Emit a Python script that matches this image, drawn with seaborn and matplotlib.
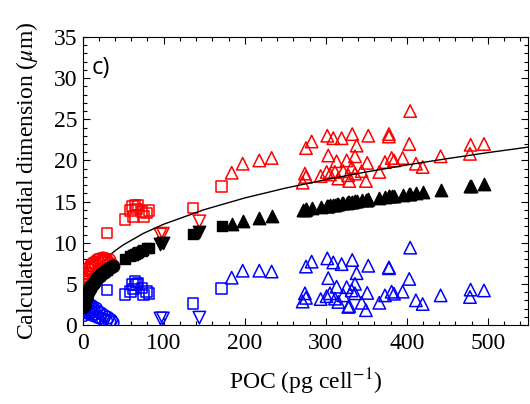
import numpy as np
import pandas as pd
import matplotlib
matplotlib.use("Agg")
import matplotlib.pyplot as plt
import seaborn as sns
from matplotlib.ticker import MultipleLocator

# --- data ---
# circles (small cells)
circ_x = [1.0, 1.2, 1.6, 2.0, 2.5, 3.0, 3.6, 4.2, 5.0, 5.8, 6.6, 7.5, 8.5, 9.5, 10.5,
          11.5, 12.5, 13.5, 15, 16.5, 18, 19.5, 21, 23, 25, 27, 29, 31, 33, 35, 37]
circ_red = [3.9, 4.6, 5.2, 4.3, 5.6, 4.9, 6.0, 5.4, 6.3, 5.8, 6.8, 6.2, 7.0, 6.6, 7.3,
            6.9, 7.5, 7.1, 7.6, 7.3, 7.9, 7.5, 8.0, 7.7, 8.1, 7.8, 8.0, 7.6, 7.9, 7.4, 7.2]
circ_black = [2.16, 2.30, 2.53, 2.72, 2.93, 3.12, 3.31, 3.50, 3.69, 3.88, 4.05, 4.22, 4.40,
              4.57, 4.72, 4.87, 5.01, 5.14, 5.33, 5.50, 5.66, 5.81, 5.95, 6.14, 6.32, 6.48,
              6.64, 6.79, 6.93, 7.07, 7.20]
circ_blue = [1.6, 2.4, 1.2, 2.9, 1.9, 3.2, 2.2, 2.8, 1.5, 2.5, 1.8, 2.6, 1.4, 2.2, 1.6,
             2.3, 1.2, 1.9, 1.4, 2.0, 1.0, 1.6, 0.9, 1.4, 0.7, 1.1, 0.5, 0.9, 0.4, 0.6, 0.3]

# squares
sq_x = [30, 52, 59, 61.5, 62.5, 64.5, 66.5, 68.5, 73, 75, 79, 82, 136, 171.5]
sq_red = [11.2, 12.8, 13.9, 14.4, 13.2, 14.6, 14.1, 14.6, 13.8, 13.2, 13.6, 13.9, 14.2, 16.8]
sq_black = [6.7, 8.05, 8.4, 8.5, 8.55, 8.65, 8.75, 8.85, 9.05, 9.1, 9.3, 9.4, 11.1, 12.0]
sq_blue = [4.25, 3.7, 4.05, 4.9, 4.4, 5.3, 4.9, 5.1, 4.5, 3.65, 4.05, 3.85, 2.6, 4.45]

# down triangles
dt_x = [96, 99, 144]
dt_red = [11.0, 11.1, 12.6]
dt_black = [9.8, 9.95, 11.3]
dt_blue = [0.8, 0.8, 0.9]

# up triangles
ut_x = [183.9, 197.5, 218, 233.2, 271.5, 274.3, 275.6, 275.6, 282.6, 293.7, 301.1, 301.9,
        303.1, 305.2, 309.3, 311.4, 313.4, 315.5, 319.6, 321.6, 325.8, 327.8, 329, 332,
        332.7, 336.1, 336.1, 338.1, 344.3, 349.6, 351.2, 352.5, 366.1, 373.1, 378, 378,
        381.3, 384.2, 394.9, 403.1, 404.2, 411.3, 419.6, 441.8, 478.8, 478, 495.3]
ut_red = [18.5, 19.6, 20.0, 20.3, 17.3, 18.4, 18.0, 21.5, 22.3, 18.1, 18.6, 23.0,
          20.6, 18.3, 22.7, 18.6, 19.9, 17.8, 22.7, 18.7, 20.0, 18.2, 17.5, 19.2,
          23.2, 20.5, 18.4, 21.8, 18.7, 17.5, 19.7, 23.0, 18.6, 19.8, 23.2, 22.9,
          20.3, 20.0, 20.3, 22.0, 26.0, 19.6, 19.2, 20.5, 21.9, 20.8, 22.0]
ut_black = [12.28, 12.58, 13.0, 13.29, 13.98, 14.03, 14.05, 14.05, 14.17, 14.36, 14.48, 14.49,
            14.51, 14.54, 14.61, 14.64, 14.67, 14.70, 14.77, 14.80, 14.86, 14.89, 14.91, 14.96,
            14.97, 15.02, 15.02, 15.05, 15.14, 15.22, 15.24, 15.26, 15.45, 15.55, 15.62, 15.62,
            15.66, 15.70, 15.85, 15.96, 15.97, 16.06, 16.17, 16.45, 16.90, 16.89, 17.09]
ut_blue = [5.75, 6.6, 6.6, 6.5, 2.85, 3.85, 3.3, 7.1, 7.7, 3.15, 3.5, 8.1,
           5.7, 3.85, 7.6, 3.2, 4.65, 2.8, 7.4, 3.6, 4.6, 2.2, 2.3, 4.2,
           7.9, 5.0, 3.85, 6.3, 2.7, 1.8, 3.9, 7.2, 2.7, 3.6, 7.0, 6.9,
           4.05, 3.8, 4.05, 5.6, 9.4, 3.0, 2.55, 3.6, 4.3, 3.4, 4.2]

# fitted curve
line_x = [0, 0.2, 0.5, 1, 2, 3, 5, 7.5, 10, 15, 20, 30, 40, 50, 75, 100, 150, 200, 250,
          300, 350, 400, 450, 500, 550]
line_y = [0, 1.54, 2.10, 2.64, 3.33, 3.81, 4.51, 5.17, 5.69, 6.51, 7.17, 8.20, 9.03, 9.73,
          11.14, 12.25, 14.02, 15.44, 16.63, 17.67, 18.60, 19.45, 20.22, 20.95, 21.62]

sns.set_theme(style="ticks")
plt.rcParams['font.family'] = ['Liberation Serif', 'DejaVu Serif']
plt.rcParams['mathtext.fontset'] = 'stix'
plt.rcParams['text.color'] = 'black'
plt.rcParams['axes.labelcolor'] = 'black'

fig = plt.figure(figsize=(5.3, 4.04), dpi=100)
ax = fig.add_axes([0.156, 0.1955, 0.8408, 0.7129])

groups = [
    ("^", 80, ut_x, ut_red, ut_black, ut_blue),
    ("v", 80, dt_x, dt_red, dt_black, dt_blue),
    ("s", 58, sq_x, sq_red, sq_black, sq_blue),
]
for m, size, xs, r, k, b in groups:
    sns.scatterplot(x=xs, y=r, marker=m, s=size, color="red", facecolor="none",
                    edgecolor="red", linewidth=1.1, ax=ax, legend=False, zorder=2)
    sns.scatterplot(x=xs, y=b, marker=m, s=size, color="blue", facecolor="none",
                    edgecolor="blue", linewidth=1.1, ax=ax, legend=False, zorder=2)
    sns.scatterplot(x=xs, y=k, marker=m, s=size, color="black", edgecolor="black",
                    linewidth=1, ax=ax, legend=False, zorder=2)

sns.lineplot(x=line_x, y=line_y, color="black", linewidth=1, ax=ax, errorbar=None,
             sort=False, zorder=3)

sns.scatterplot(x=circ_x, y=circ_red, marker="o", s=80, color="red", facecolor="none",
                edgecolor="red", linewidth=1.1, ax=ax, legend=False, zorder=4)
sns.scatterplot(x=circ_x, y=circ_blue, marker="o", s=80, color="blue", facecolor="none",
                edgecolor="blue", linewidth=1.1, ax=ax, legend=False, zorder=4)
sns.scatterplot(x=circ_x, y=circ_black, marker="o", s=80, color="black", edgecolor="black",
                linewidth=1, ax=ax, legend=False, zorder=4)

ax.set_xlim(0, 550)
ax.set_ylim(0, 35)
ax.xaxis.set_major_locator(MultipleLocator(100))
ax.xaxis.set_minor_locator(MultipleLocator(20))
ax.yaxis.set_major_locator(MultipleLocator(5))
ax.yaxis.set_minor_locator(MultipleLocator(1))
ax.tick_params(which="both", direction="in", top=True, right=True, width=0.8,
               color="black", labelcolor="black", labelsize=17)
ax.tick_params(which="major", length=5)
ax.tick_params(which="minor", length=3)
ax.tick_params(axis="x", pad=6)
ax.tick_params(axis="y", pad=4)
for sp in ax.spines.values():
    sp.set_color("black")
    sp.set_linewidth(0.8)

ax.set_xlabel(r"POC (pg cell$^{-1}$)", fontsize=17, labelpad=9, color="black")
ax.set_ylabel(r"Calculated radial dimension ($\mu$m)", fontsize=17, labelpad=10, color="black")
ax.text(0.04, 0.893, "c)", transform=ax.transAxes, fontsize=17, family=["Open Sans", "DejaVu Sans"],
        ha="center", va="center", color="black")

fig.savefig("out.png", dpi=100)
